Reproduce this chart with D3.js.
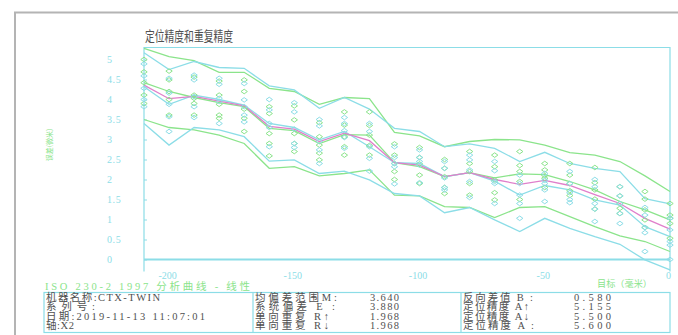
<!DOCTYPE html>
<html>
<head>
<meta charset="utf-8">
<script src="https://cdn.jsdelivr.net/npm/d3@7"></script>
<style>
  html, body { margin: 0; padding: 0; background: #fff; }
  svg { display: block; }
</style>
</head>
<body>
<svg id="chart" width="678" height="335"></svg>
<script>
// Target positions (mm)
const targets = [-210, -200, -190, -180, -170, -160, -150, -140, -130, -120, -110,
                 -100, -90, -80, -70, -60, -50, -40, -30, -20, -10, 0];

// Forward runs (↑) per target, deviation in µm
const fwdRuns = [
  [5.00, 4.69, 4.42, 4.11, 3.90], [4.71, 4.49, 4.20, 4.00, 3.61],
  [4.56, 4.11, 4.03, 3.90, 3.61], [4.46, 4.11, 3.88, 3.61, 3.53],
  [4.49, 4.20, 3.76, 3.53, 3.20], [3.82, 3.65, 3.15, 2.90, 2.59],
  [3.84, 3.49, 3.15, 2.90, 2.70], [3.42, 3.07, 2.86, 2.66, 2.49],
  [3.69, 3.36, 3.07, 2.82, 2.61], [3.69, 3.35, 3.11, 2.85, 2.61],
  [2.89, 2.61, 2.40, 2.20, 2.00], [2.80, 2.55, 2.39, 2.11, 1.90],
  [2.50, 2.28, 2.07, 1.80, 1.65], [2.70, 2.40, 2.20, 1.90, 1.61],
  [2.61, 2.32, 1.99, 1.67, 1.49], [2.70, 2.35, 2.20, 1.95, 1.50],
  [2.40, 2.24, 2.10, 2.03, 1.80], [2.40, 2.11, 1.90, 1.72, 1.60],
  [2.30, 1.92, 1.74, 1.51, 1.26], [1.82, 1.59, 1.40, 1.28, 1.15],
  [1.70, 1.51, 1.24, 0.99, 0.80], [1.40, 1.11, 1.03, 0.90, 0.53]
];

// Backward runs (↓) per target
const bwdRuns = [
  [4.89, 4.59, 4.28, 4.00, 3.82], [4.53, 4.16, 3.88, 3.57, 3.20],
  [4.61, 4.49, 4.07, 3.82, 3.55], [4.53, 4.38, 4.03, 3.95, 3.40],
  [4.40, 3.99, 3.82, 3.61, 3.44], [4.00, 3.74, 3.40, 3.30, 2.82],
  [3.92, 3.69, 3.26, 2.90, 2.80], [3.50, 3.34, 2.95, 2.74, 2.40],
  [3.55, 3.40, 3.22, 3.05, 2.78], [3.40, 3.20, 2.82, 2.53, 2.21],
  [2.82, 2.55, 2.40, 2.32, 1.89], [2.74, 2.55, 2.45, 2.36, 1.92],
  [2.45, 2.28, 2.04, 1.80, 1.74], [2.61, 2.49, 2.24, 1.95, 1.55],
  [2.45, 2.22, 1.95, 1.90, 1.40], [2.11, 1.90, 1.61, 1.40, 1.03],
  [2.15, 1.98, 1.90, 1.74, 1.45], [2.20, 1.90, 1.67, 1.50, 1.42],
  [2.00, 1.82, 1.40, 1.26, 0.95], [1.82, 1.59, 1.40, 1.15, 0.90],
  [1.30, 1.11, 0.80, 0.67, 0.20], [1.03, 0.74, 0.45, 0.36, 0.00]
];

// Mean deviation and ±2s bands, forward direction
const fwdUpper = [5.28, 5.07, 4.97, 4.68, 4.68, 4.28, 4.20, 3.88, 4.05, 4.02, 3.18,
                  3.09, 2.82, 2.95, 3.00, 2.99, 2.86, 2.67, 2.61, 2.45, 2.09, 1.70];
const fwdMean  = [4.42, 4.20, 4.05, 3.92, 3.82, 3.28, 3.22, 2.90, 3.12, 3.11, 2.42,
                  2.32, 2.07, 2.17, 2.04, 2.14, 2.12, 1.95, 1.74, 1.45, 1.24, 0.99];
const fwdLower = [3.50, 3.30, 3.24, 3.11, 2.90, 2.28, 2.32, 2.09, 2.15, 2.24, 1.61,
                  1.59, 1.32, 1.30, 1.05, 1.30, 1.32, 1.07, 0.82, 0.59, 0.45, 0.20];

// Mean deviation and ±2s bands, backward direction
const bwdUpper = [5.17, 4.75, 4.95, 4.80, 4.78, 4.34, 4.24, 3.78, 4.05, 3.76, 3.28,
                  3.20, 2.82, 2.89, 2.78, 2.45, 2.68, 2.40, 2.28, 2.20, 1.52, 1.39];
const bwdMean  = [4.32, 3.88, 4.11, 4.00, 3.86, 3.40, 3.30, 2.99, 3.20, 2.82, 2.42,
                  2.40, 2.07, 2.17, 1.96, 1.61, 1.85, 1.74, 1.49, 1.36, 0.82, 0.57];
const bwdLower = [3.40, 2.86, 3.30, 3.24, 3.07, 2.46, 2.49, 2.15, 2.21, 1.99, 1.65,
                  1.59, 1.17, 1.30, 0.99, 0.70, 1.03, 0.78, 0.57, 0.38, -0.01, -0.26];

// Bidirectional mean
const biMean   = [4.36, 4.02, 4.08, 3.96, 3.84, 3.33, 3.26, 2.95, 3.16, 2.97, 2.42,
                  2.36, 2.07, 2.17, 2.00, 1.88, 1.98, 1.85, 1.62, 1.40, 1.03, 0.76];

const yTicks = [0, 0.5, 1, 1.5, 2, 2.5, 3, 3.5, 4, 4.5, 5];
const xTicks = [-200, -150, -100, -50, 0];

const infoLeft = ["机器名称:CTX-TWIN", "系列号:", "日期:2019-11-13 11:07:01", "轴:X2"];
const infoMidLabels = ["均偏差范围M:", "系统偏差 E :", "单向重复 R↑", "单向重复 R↓"];
const infoMidValues = ["3.640", "3.880", "1.968", "1.968"];
const infoRightLabels = ["反向差值 B :", "定位精度 A↑", "定位精度 A↓", "定位精度 A :"];
const infoRightValues = ["0.580", "5.155", "5.500", "5.600"];

const CYAN = "#8cdde7";
const GREEN = "#8be48b";
const PINK = "#e07fcb";
const TEXT = "#505050";
const CJK = "'Noto Sans CJK SC', 'Noto Sans', sans-serif";
const SERIF = "'Liberation Serif', 'Noto Sans CJK SC', serif";

const svg = d3.select("#chart");

// page frame
svg.append("path")
  .attr("d", "M15,335 V12.5 H678")
  .attr("fill", "none").attr("stroke", "#b4b4b4").attr("stroke-width", 2);

const plot = { left: 144, right: 670, top: 47.5, bottom: 271.5 };
const x = d3.scaleLinear().domain([-210, 0]).range([plot.left, plot.right]);
const y = d3.scaleLinear().domain([-0.3, 5.3]).range([plot.bottom, plot.top]);

// title
svg.append("text")
  .attr("x", 145).attr("y", 41)
  .attr("font-family", CJK).attr("font-size", 14)
  .attr("textLength", 88).attr("lengthAdjust", "spacingAndGlyphs")
  .attr("fill", TEXT)
  .text("定位精度和重复精度");

// plot frame (left, top, right)
svg.append("path")
  .attr("d", `M${plot.left},${plot.bottom} V${plot.top} H${plot.right} V${plot.bottom}`)
  .attr("fill", "none").attr("stroke", CYAN).attr("stroke-width", 1.2);

// zero line
svg.append("line")
  .attr("x1", plot.left).attr("x2", plot.right)
  .attr("y1", y(0)).attr("y2", y(0))
  .attr("stroke", CYAN).attr("stroke-width", 2);

// y axis
const yAxis = svg.append("g")
  .attr("transform", `translate(${plot.left},0)`)
  .call(d3.axisLeft(y).tickValues(yTicks).tickSize(-3).tickFormat(d => String(d)));
yAxis.select(".domain").remove();
yAxis.selectAll("line").attr("stroke", CYAN);
yAxis.selectAll("text")
  .attr("x", -37).attr("text-anchor", "start")
  .attr("font-family", SERIF).attr("font-size", 10)
  .attr("letter-spacing", 0.6)
  .attr("fill", CYAN);

// x axis labels
const xAxis = svg.append("g")
  .attr("transform", `translate(0,${plot.bottom})`)
  .call(d3.axisBottom(x).tickValues(xTicks).tickSize(0).tickPadding(0).tickFormat(d => String(d)));
xAxis.select(".domain").remove();
xAxis.selectAll("text")
  .attr("dx", -2)
  .attr("font-family", SERIF).attr("font-size", 10)
  .attr("fill", CYAN);

// axis titles
svg.append("text")
  .attr("transform", "translate(52,145) rotate(-90)")
  .attr("text-anchor", "middle")
  .attr("font-family", CJK).attr("font-size", 7)
  .attr("fill", GREEN)
  .text("误差(微米)");

svg.append("text")
  .attr("x", 597).attr("y", 286.5)
  .attr("font-family", CJK).attr("font-size", 9)
  .attr("textLength", 55).attr("lengthAdjust", "spacingAndGlyphs")
  .attr("fill", GREEN)
  .text("目标（毫米）");

// band and mean lines
const line = d3.line().x((d, i) => x(targets[i])).y(d => y(d));
const series = [
  { values: fwdUpper, color: GREEN },
  { values: bwdUpper, color: CYAN },
  { values: fwdLower, color: GREEN },
  { values: bwdLower, color: CYAN },
  { values: fwdMean, color: GREEN },
  { values: bwdMean, color: CYAN },
  { values: biMean, color: PINK }
];
svg.append("g").selectAll("path")
  .data(series).join("path")
  .attr("d", d => line(d.values))
  .attr("fill", "none")
  .attr("stroke", d => d.color)
  .attr("stroke-width", 1.3);

// individual run markers
function runPoints(runs, color) {
  const pts = [];
  runs.forEach((col, i) => col.forEach(v => pts.push({ t: targets[i], v, color })));
  return pts;
}
const diamond = (cx, cy) => `M${cx - 3.2},${cy} L${cx},${cy - 2.3} L${cx + 3.2},${cy} L${cx},${cy + 2.3} Z`;
svg.append("g").selectAll("path")
  .data(runPoints(fwdRuns, GREEN).concat(runPoints(bwdRuns, CYAN)))
  .join("path")
  .attr("d", d => diamond(x(d.t), y(d.v)))
  .attr("fill", "none")
  .attr("stroke", d => d.color)
  .attr("stroke-width", 1);

// analysis standard caption
svg.append("text")
  .attr("x", 45).attr("y", 289.8)
  .attr("font-family", SERIF).attr("font-size", 10.5)
  .attr("textLength", 205).attr("lengthAdjust", "spacing")
  .attr("fill", GREEN)
  .text("ISO 230-2 1997 分析曲线 - 线性");

// information table
const table = { left: 44, right: 670, top: 292.5, bottom: 332.5, div1: 253, div2: 461 };
svg.append("rect")
  .attr("x", table.left).attr("y", table.top)
  .attr("width", table.right - table.left).attr("height", table.bottom - table.top)
  .attr("fill", "none").attr("stroke", CYAN).attr("stroke-width", 1.2);
[table.div1, table.div2].forEach(dx =>
  svg.append("line")
    .attr("x1", dx).attr("x2", dx).attr("y1", table.top).attr("y2", table.bottom)
    .attr("stroke", CYAN).attr("stroke-width", 1.2));

const rowY = d3.scalePoint().domain(d3.range(4)).range([300.8, 329.3]);
function column(texts, xPos, widths) {
  svg.append("g").selectAll("text")
    .data(texts).join("text")
    .attr("x", xPos).attr("y", (d, i) => rowY(i))
    .attr("font-family", SERIF).attr("font-size", 10.5)
    .attr("fill", TEXT)
    .each(function (d, i) {
      if (widths) d3.select(this).attr("textLength", widths[i]).attr("lengthAdjust", "spacing");
    })
    .text(d => d);
}
column(infoLeft, 46, [114, 49, 159, 28]);
column(infoMidLabels, 255, [82, 80, 74, 74]);
column(infoMidValues, 370, [29, 29, 29, 29]);
column(infoRightLabels, 463, [70, 66, 66, 71]);
column(infoRightValues, 574, [37, 37, 37, 37]);
</script>
</body>
</html>
